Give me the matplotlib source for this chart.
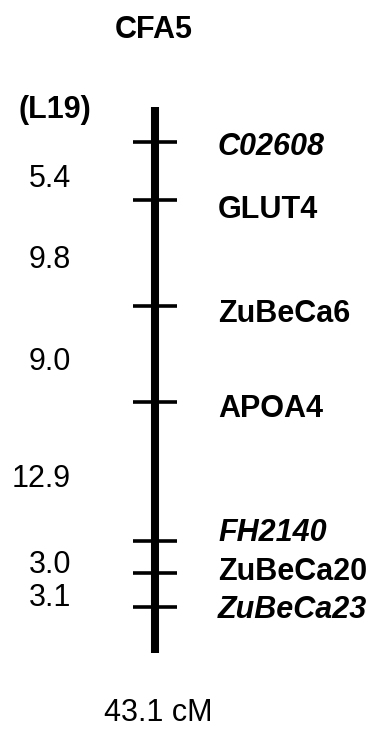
import numpy as np
import matplotlib
matplotlib.use("Agg")
import matplotlib.pyplot as plt

plt.rcParams['font.family'] = ['Liberation Sans', 'DejaVu Sans']

# linkage map data (CFA5)
markers = ['C02608', 'GLUT4', 'ZuBeCa6', 'APOA4', 'FH2140', 'ZuBeCa20', 'ZuBeCa23']
italic = [True, False, False, False, True, False, True]
intervals = [5.4, 9.8, 9.0, 12.9, 3.0, 3.1]
chrom = 'CFA5'
group = '(L19)'
total = '43.1 cM'

positions = np.concatenate([[0], np.cumsum(intervals)])

# label nudges (in cM) so names don't collide
label_shift = [0.5, 0.9, 0.8, 0.6, -0.8, -0.1, 0.3]

W, H = 376, 729
px_per_cm = 10.76
top_px = 142

fig = plt.figure(figsize=(W / 100, H / 100), dpi=100)
ax = fig.add_axes([0, 0, 1, 1])
ax.set_xlim(0, W)
ax.set_ylim((H - top_px) / px_per_cm, -top_px / px_per_cm)
ax.axis('off')

x_bar = 155
fs = 22

ax.plot([x_bar, x_bar], [positions[0] - 3.25, positions[-1] + 4.25],
        color='black', lw=5.8, solid_capstyle='butt')
for p in positions:
    ax.plot([133, 177], [p, p], color='black', lw=2.6, solid_capstyle='butt')

for name, p, it, s in zip(markers, positions, italic, label_shift):
    ax.text(218, p + s, name, fontsize=fs, fontweight='bold',
            fontstyle='italic' if it else 'normal', va='center', ha='left')

mids = (positions[:-1] + positions[1:]) / 2
for d, m in zip(intervals, mids):
    ax.text(71, m + 0.7, f'{d:.1f}', fontsize=fs, va='center', ha='right')

ax.text(154, -top_px / px_per_cm + 30 / px_per_cm, chrom, fontsize=fs,
        fontweight='bold', ha='center', va='center')
ax.text(55, -3.0, group, fontsize=fs, fontweight='bold', ha='center', va='center')
ax.text(158, positions[-1] + 9.9, total, fontsize=fs, ha='center', va='center')

fig.savefig('out.png', dpi=100)
